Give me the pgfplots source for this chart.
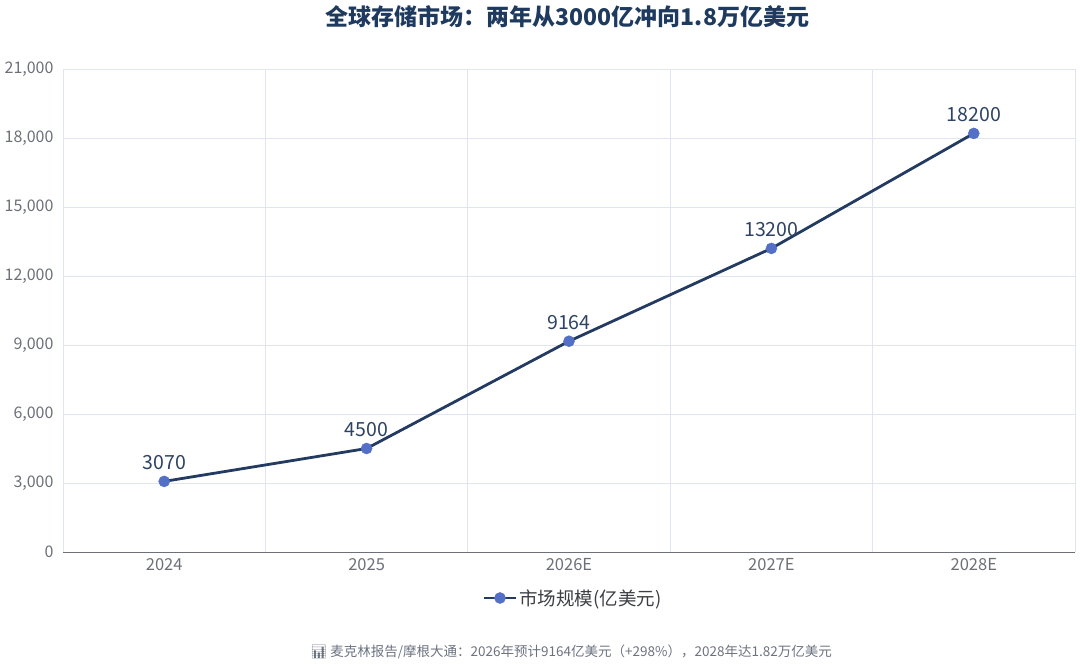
\documentclass[border=0pt]{standalone}
\usepackage{fontspec}
\setmainfont{Noto Sans CJK SC}
\newfontfamily\emojifont{Noto Emoji}
\usepackage{pgfplots}
\pgfplotsset{compat=1.18}

\definecolor{titlenavy}{HTML}{1F3A5F}
\definecolor{linenavy}{HTML}{233B60}
\definecolor{markblue}{HTML}{5470C6}
\definecolor{ticktext}{HTML}{6E7079}
\definecolor{gridc}{HTML}{E0E6F1}
\definecolor{labelc}{HTML}{2E4363}
\definecolor{footc}{HTML}{6B7280}

\begin{document}
\begin{tikzpicture}
\useasboundingbox (-63bp,-112bp) rectangle (1017bp,552bp);
\begin{axis}[
    at={(0,0)}, anchor=south west,
    scale only axis,
    width=1012bp, height=483bp,
    xmin=-0.5, xmax=4.5,
    ymin=0, ymax=21000,
    axis x line*=bottom,
    axis y line*=left,
    x axis line style={color=ticktext, line width=0.8bp, -},
    y axis line style={draw=none},
    xtick={0,1,2,3,4},
    xticklabels={2024,2025,2026E,2027E,2028E},
    x tick style={draw=none},
    extra x ticks={-0.5,0.5,1.5,2.5,3.5,4.5},
    extra x tick labels={},
    extra x tick style={grid=major, tick align=outside, major tick length=5bp,
        tick style={draw=ticktext, line width=0.8bp}},
    ytick={0,3000,...,21000},
    scaled y ticks=false,
    y tick style={draw=none},
    ymajorgrids,
    grid style={draw=gridc, line width=0.8bp},
    xticklabel style={font=\fontsize{16.5bp}{19bp}\selectfont, text=ticktext, yshift=-3bp},
    yticklabel style={font=\fontsize{16bp}{19bp}\selectfont, text=ticktext, xshift=-6bp},
    yticklabel={\pgfmathprintnumber[fixed, precision=0, 1000 sep={,}, assume math mode=true]{\tick}},
    clip=false,
    legend style={at={(0.5,0)}, anchor=center, xshift=4bp, yshift=-46bp, draw=none, fill=none,
        font=\fontsize{18.5bp}{22bp}\selectfont, text=ticktext!55!black,
        /tikz/every even column/.append style={column sep=4bp}},
]
\addplot[
    color=linenavy, line width=2.8bp,
    mark=*, mark size=5.5bp,
    mark options={fill=markblue, draw=markblue, line width=0.5bp},
    legend image code/.code={\draw[mark repeat=2, mark phase=2]
        plot coordinates {(-3bp,0bp) (13bp,0bp) (29bp,0bp)};},
    nodes near coords,
    nodes near coords style={anchor=south, yshift=8bp, text=labelc,
        font=\fontsize{19.5bp}{22bp}\selectfont,
        /pgf/number format/.cd, fixed, precision=0, 1000 sep={}, assume math mode=true},
] coordinates {
    (0,3070) (1,4500) (2,9164) (3,13200) (4,18200)
};
\addlegendentry{市场规模(亿美元)}
\end{axis}
\node[text=titlenavy, font=\fontsize{23bp}{27bp}\selectfont\bfseries] at (504.5bp,535bp)
    {全球存储市场：两年从3000亿冲向1.8万亿美元};
\node[text=footc, font=\fontsize{13.5bp}{16bp}\selectfont] at (508bp,-100bp)
    {{\emojifont 📊} 麦克林报告/摩根大通：2026年预计9164亿美元（+298\%），2028年达1.82万亿美元};
\end{tikzpicture}
\end{document}
